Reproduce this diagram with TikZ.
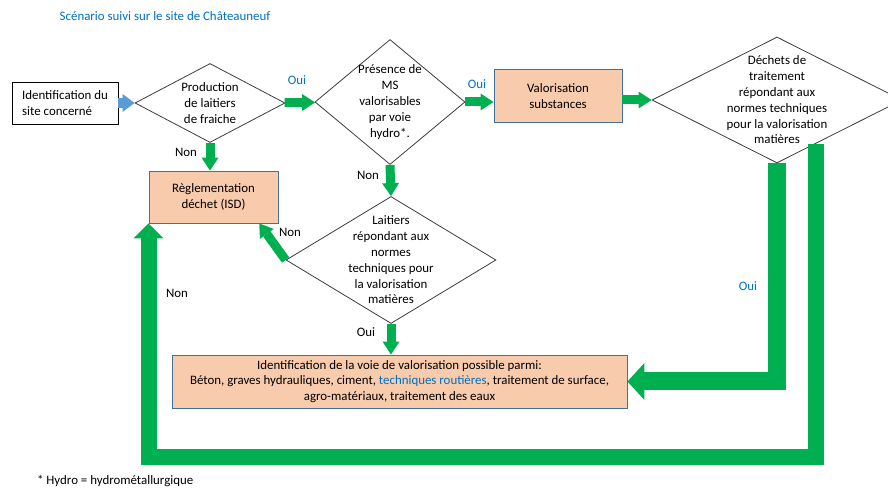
\documentclass[tikz,border=0pt]{standalone}
\usepackage{fontspec}
\setmainfont{Carlito}
\usetikzlibrary{positioning,arrows.meta,shapes.geometric}

\definecolor{flowgreen}{HTML}{00B050}
\definecolor{arrowblue}{HTML}{5B9BD5}
\definecolor{peach}{HTML}{F8CBAD}
\definecolor{boxedge}{HTML}{41719C}
\definecolor{textblue}{HTML}{0070C0}
\newcommand{\diagfont}{\fontsize{11}{13.5}\selectfont}

\begin{document}
\begin{tikzpicture}[
  x=0.03cm, y=-0.03cm,
  startbox/.style={rectangle, draw=black, line width=0.7pt, align=left, font=\diagfont},
  outcome/.style={rectangle, draw=boxedge, fill=peach, line width=0.7pt, align=center, font=\diagfont},
  decision/.style={diamond, draw=black!75, line width=0.7pt, inner sep=0pt, align=center, font=\diagfont},
  entry/.style={draw=arrowblue, line width=0.3cm, -{Triangle[length=0.36cm, width=0.54cm, line width=0pt]}},
  flow/.style={draw=flowgreen, line width=0.27cm, -{Triangle[length=0.39cm, width=0.51cm, line width=0pt]}},
  bigflow/.style={draw=flowgreen, line width=0.54cm, line join=miter, -{Triangle[length=0.51cm, width=1.11cm, line width=0pt]}},
  loopflow/.style={draw=flowgreen, line width=0.48cm, line join=miter, -{Triangle[length=0.45cm, width=0.9cm, line width=0pt]}},
  answer/.style={font=\diagfont},
  answerblue/.style={answer, text=textblue}
]
\useasboundingbox (0,0) rectangle (888,488);
\clip (0,0) rectangle (888,488);

% Title
\node[answerblue] (title) at (165,16) {Scénario suivi sur le site de Châteauneuf};

% Start
\node[startbox, minimum width=3.18cm, minimum height=1.26cm] (site) at (65,103) {Identification du\\site concerné};

% Decisions
\node[decision, aspect=1.9, minimum width=4.5cm, minimum height=2.37cm] (prod) at (210,103) {Production\\de laitiers\\de fraiche};
\node[decision, aspect=1.2, inner sep=-1.5pt, minimum width=4.5cm, minimum height=3.75cm] (ms) at (390,102) {Présence de\\MS\\valorisables\\par voie\\hydro*.};
\node[decision, aspect=1.98, inner sep=-4.8pt, minimum width=7.5cm, minimum height=3.78cm] (dechets) at (777,100) {Déchets de\\traitement\\répondant aux\\normes techniques\\pour la valorisation\\matières};
\node[decision, aspect=1.65, inner sep=-4.8pt, minimum width=6.3cm, minimum height=3.81cm] (laitiers) at (391,260) {Laitiers\\répondant aux\\normes\\techniques pour\\la valorisation\\matières};

% Outcomes
\node[outcome, minimum width=3.84cm, minimum height=1.59cm] (valsub) at (558,96) {Valorisation\\substances};
\node[outcome, minimum width=3.87cm, minimum height=1.56cm] (isd) at (213.5,197) {Règlementation\\déchet (ISD)};
\node[outcome, minimum width=13.65cm, minimum height=1.59cm] (voie) at (399.5,381.5) {Identification de la voie de valorisation possible parmi:\\Béton, graves hydrauliques, ciment, \textcolor{textblue}{techniques routières}, traitement de surface,\\agro-matériaux, traitement des eaux};

% Answers
\node[answerblue] (oui1) at (297,80) {Oui};
\node[answerblue] (oui2) at (477,84) {Oui};
\node[answerblue] (oui3) at (748,286) {Oui};
\node[answer] (oui4) at (366,332) {Oui};
\node[answer] (non1) at (186,152) {Non};
\node[answer] (non2) at (368,175) {Non};
\node[answer] (non3) at (290,232) {Non};
\node[answer] (non4) at (177,293) {Non};

% Footnote
\node[answer, anchor=west] (note) at (33,481) {* Hydro = hydrométallurgique};

% Connectors
\draw[entry] (site) -- (prod);
\draw[flow] (prod) -- (ms);
\draw[flow] (ms.east) -- (ms.east -| valsub.west);
\draw[flow] (valsub.east |- dechets.west) -- (dechets.west);
\draw[flow] (prod.south) -- (prod.south |- isd.north);
\draw[flow] (ms.south) -- (laitiers.north);
\draw[flow] (laitiers.west) -- (isd.-30);
\draw[flow] (laitiers.south) -- (laitiers.south |- voie.north);
\draw[bigflow] (dechets.south) |- (voie.east);
\coordinate (loopbot) at (0,457);
\draw[loopflow] (dechets.-48) |- (isd.south west |- loopbot) -- (isd.south west);

\end{tikzpicture}
\end{document}
